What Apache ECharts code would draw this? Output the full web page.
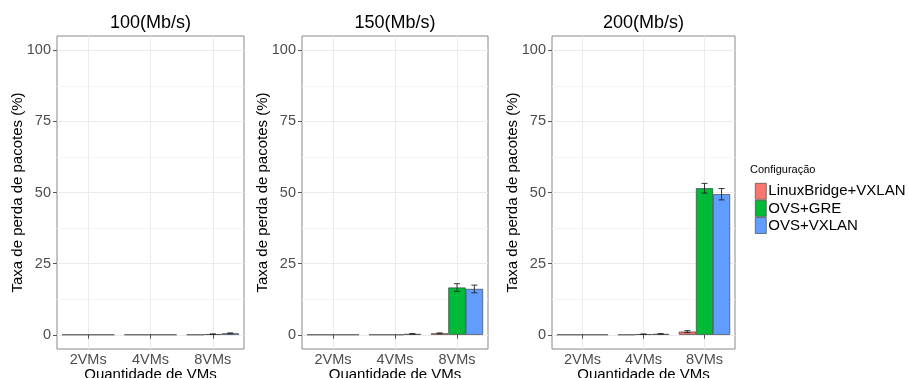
<!DOCTYPE html>
<html>
<head>
<meta charset="utf-8">
<script src="https://cdn.jsdelivr.net/npm/echarts@6/dist/echarts.min.js"></script>
<style>
  html, body { margin: 0; padding: 0; background: #fff; }
  #chart { width: 909px; height: 378px; }
</style>
</head>
<body>
<div id="chart"></div>
<script>
const categories = ['2VMs', '4VMs', '8VMs'];
const configs = ['LinuxBridge+VXLAN', 'OVS+GRE', 'OVS+VXLAN'];
const panelTitles = ['100(Mb/s)', '150(Mb/s)', '200(Mb/s)'];
const yTicks = [0, 25, 50, 75, 100];
const yMinorTicks = [12.5, 37.5, 62.5, 87.5];

// taxa media de perda (%) por quantidade de VMs
const linuxBridge100 = [0, 0, 0];
const ovsGre100 = [0, 0, 0.2];
const ovsVxlan100 = [0, 0, 0.5];
const linuxBridge150 = [0, 0, 0.5];
const ovsGre150 = [0, 0, 16.6];
const ovsVxlan150 = [0, 0.3, 16.1];
const linuxBridge200 = [0, 0, 1.1];
const ovsGre200 = [0, 0.2, 51.5];
const ovsVxlan200 = [0, 0.3, 49.4];

// desvio (+/-) usado nas barras de erro
const linuxBridge100Err = [0, 0, 0];
const ovsGre100Err = [0, 0, 0.1];
const ovsVxlan100Err = [0, 0, 0.15];
const linuxBridge150Err = [0, 0, 0.15];
const ovsGre150Err = [0, 0, 1.35];
const ovsVxlan150Err = [0, 0.1, 1.35];
const linuxBridge200Err = [0, 0, 0.35];
const ovsGre200Err = [0, 0.05, 1.7];
const ovsVxlan200Err = [0, 0.1, 2.0];

const colors = ['#F8766D', '#00BA38', '#619CFF'];
const FONT = 'Liberation Sans';
const GAP = 0.16;

const panels = [
  { title: panelTitles[0], values: [linuxBridge100, ovsGre100, ovsVxlan100],
    errs: [linuxBridge100Err, ovsGre100Err, ovsVxlan100Err], left: 57, right: 244 },
  { title: panelTitles[1], values: [linuxBridge150, ovsGre150, ovsVxlan150],
    errs: [linuxBridge150Err, ovsGre150Err, ovsVxlan150Err], left: 302, right: 488 },
  { title: panelTitles[2], values: [linuxBridge200, ovsGre200, ovsVxlan200],
    errs: [linuxBridge200Err, ovsGre200Err, ovsVxlan200Err], left: 552, right: 735 }
];

const chart = echarts.init(document.getElementById('chart'));

const grid = [], xAxis = [], yAxis = [], series = [], graphic = [];

panels.forEach((p, i) => {
  grid.push({
    left: p.left, width: p.right - p.left, top: 36, bottom: 29,
    outerBoundsMode: 'none', containLabel: false,
    show: true, borderColor: '#888', borderWidth: 1, backgroundColor: '#fff'
  });
  xAxis.push({
    type: 'category', gridIndex: i, data: categories,
    name: 'Quantidade de VMs', nameLocation: 'middle', nameGap: 18, nameMoveOverlap: false,
    nameTextStyle: { fontFamily: FONT, fontSize: 15, color: '#000' },
    axisLine: { show: false },
    axisTick: { show: true, alignWithLabel: true, length: 4, lineStyle: { color: '#555' } },
    axisLabel: { margin: 3, fontFamily: FONT, fontSize: 14.5, color: '#4d4d4d' },
    splitLine: { show: true, alignWithLabel: true, lineStyle: { color: '#ebebeb', width: 1 } }
  });
  yAxis.push({
    type: 'value', gridIndex: i, min: -5, max: 105,
    name: 'Taxa de perda de pacotes (%)', nameLocation: 'middle', nameGap: 32, nameMoveOverlap: false,
    nameTextStyle: { fontFamily: FONT, fontSize: 15, color: '#000' },
    axisLine: { show: false },
    axisTick: { show: true, length: 4, customValues: yTicks, lineStyle: { color: '#555' } },
    axisLabel: { margin: 6, fontFamily: FONT, fontSize: 14.5, color: '#4d4d4d', customValues: yTicks },
    splitLine: { show: true, lineStyle: { color: '#ebebeb', width: 1 } }
  });
  // eixo auxiliar apenas para as linhas de grade menores
  yAxis.push({
    type: 'value', gridIndex: i, min: -5, max: 105, position: 'left',
    axisLine: { show: false },
    axisTick: { show: false, customValues: yMinorTicks },
    axisLabel: { show: false, customValues: yMinorTicks },
    splitLine: { show: true, lineStyle: { color: '#f4f4f4', width: 1 } }
  });

  p.values.forEach((vals, k) => {
    series.push({
      name: configs[k], type: 'bar', xAxisIndex: i, yAxisIndex: i * 2,
      data: vals, barGap: '0%', barCategoryGap: (GAP * 100) + '%',
      itemStyle: { color: colors[k], borderColor: '#333', borderWidth: 0.6 },
      emphasis: { disabled: true }
    });
  });

  const errData = [];
  p.values.forEach((vals, k) => {
    vals.forEach((v, c) => {
      const e = p.errs[k][c];
      if (e > 0) errData.push([c, v - e, v + e, k]);
    });
  });
  series.push({
    type: 'custom', xAxisIndex: i, yAxisIndex: i * 2, z: 5, silent: true,
    data: errData,
    renderItem(params, api) {
      const c = api.value(0), lo = api.value(1), hi = api.value(2), k = api.value(3);
      const band = api.size([1, 0])[0];
      const groupW = band * (1 - GAP);
      const barW = groupW / 3;
      const cx = api.coord([c, 0])[0] - groupW / 2 + barW * (k + 0.5);
      const yLo = api.coord([c, lo])[1];
      const yHi = api.coord([c, hi])[1];
      const hw = 3;
      const st = { stroke: '#222', lineWidth: 0.9 };
      return {
        type: 'group',
        children: [
          { type: 'line', shape: { x1: cx, y1: yLo, x2: cx, y2: yHi }, style: st },
          { type: 'line', shape: { x1: cx - hw, y1: yLo, x2: cx + hw, y2: yLo }, style: st },
          { type: 'line', shape: { x1: cx - hw, y1: yHi, x2: cx + hw, y2: yHi }, style: st }
        ]
      };
    }
  });

  graphic.push({
    type: 'text', x: (p.left + p.right) / 2, y: 23,
    style: { text: p.title, textAlign: 'center', textVerticalAlign: 'middle',
             fontFamily: FONT, fontSize: 18, fill: '#000' }
  });
});

graphic.push({
  type: 'text', left: 750, top: 164,
  style: { text: 'Configuração', fontFamily: FONT, fontSize: 11, fill: '#000' }
});

chart.setOption({
  animation: false,
  grid: grid,
  xAxis: xAxis,
  yAxis: yAxis,
  series: series,
  graphic: graphic,
  legend: {
    data: configs, orient: 'vertical', left: 750, top: 178,
    icon: 'rect', itemWidth: 11, itemHeight: 16, itemGap: 0.5,
    selectedMode: false,
    itemStyle: { borderColor: '#333', borderWidth: 0.6 },
    textStyle: { fontFamily: FONT, fontSize: 15, lineHeight: 16, color: '#000', padding: [0, 0, 0, -3] }
  }
});
</script>
</body>
</html>
